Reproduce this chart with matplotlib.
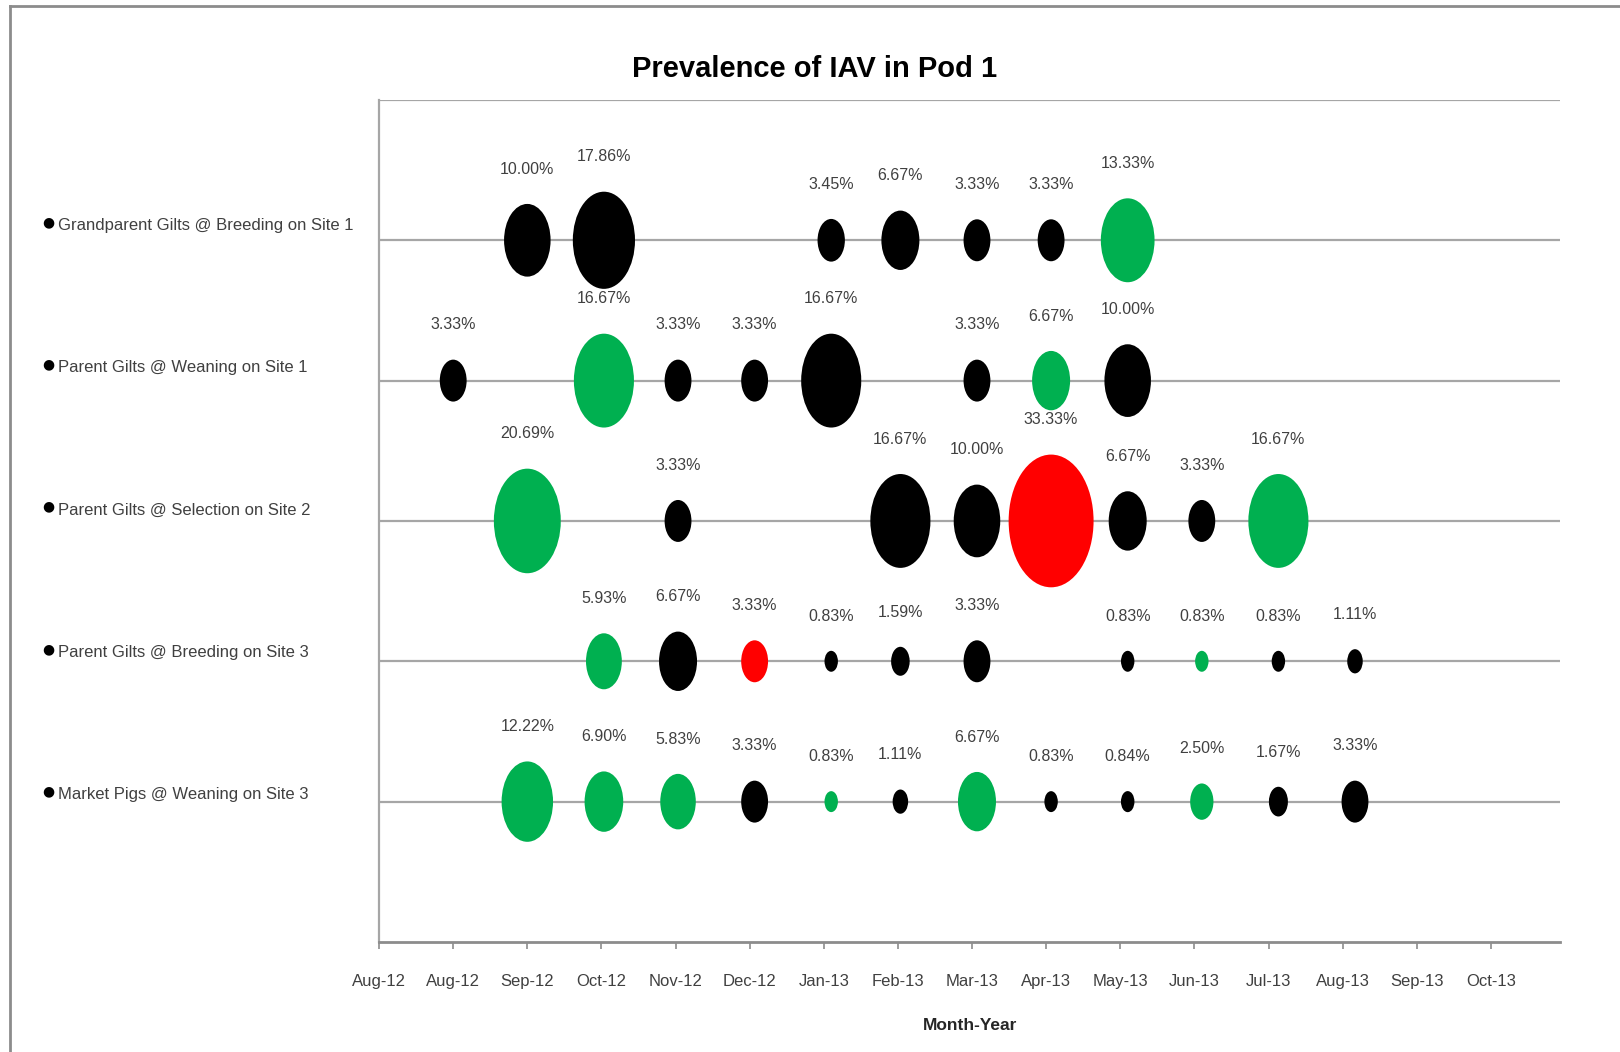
import numpy as np
import matplotlib
matplotlib.use("Agg")
import matplotlib.pyplot as plt
import matplotlib.dates as mdates
from matplotlib.path import Path
from matplotlib.transforms import Affine2D
from matplotlib.lines import Line2D
import datetime as dt

plt.rcParams['font.family'] = ['Liberation Sans', 'DejaVu Sans']

# ---- data ----
rows = [
    "Grandparent Gilts @ Breeding on Site 1",
    "Parent Gilts @ Weaning on Site 1",
    "Parent Gilts @ Selection on Site 2",
    "Parent Gilts @ Breeding on Site 3",
    "Market Pigs @ Weaning on Site 3",
]

gp_dates = ["2012-09-30", "2012-10-31", "2013-01-31", "2013-02-28", "2013-03-31", "2013-04-30", "2013-05-31"]
gp_vals = [10.00, 17.86, 3.45, 6.67, 3.33, 3.33, 13.33]
gp_cols = ["k", "k", "k", "k", "k", "k", "g"]

pw1_dates = ["2012-08-31", "2012-10-31", "2012-11-30", "2012-12-31", "2013-01-31", "2013-03-31", "2013-04-30", "2013-05-31"]
pw1_vals = [3.33, 16.67, 3.33, 3.33, 16.67, 3.33, 6.67, 10.00]
pw1_cols = ["k", "g", "k", "k", "k", "k", "g", "k"]

ps2_dates = ["2012-09-30", "2012-11-30", "2013-02-28", "2013-03-31", "2013-04-30", "2013-05-31", "2013-06-30", "2013-07-31"]
ps2_vals = [20.69, 3.33, 16.67, 10.00, 33.33, 6.67, 3.33, 16.67]
ps2_cols = ["g", "k", "k", "k", "r", "k", "k", "g"]

pb3_dates = ["2012-10-31", "2012-11-30", "2012-12-31", "2013-01-31", "2013-02-28", "2013-03-31", "2013-05-31", "2013-06-30", "2013-07-31", "2013-08-31"]
pb3_vals = [5.93, 6.67, 3.33, 0.83, 1.59, 3.33, 0.83, 0.83, 0.83, 1.11]
pb3_cols = ["g", "k", "r", "k", "k", "k", "k", "g", "k", "k"]

mw3_dates = ["2012-09-30", "2012-10-31", "2012-11-30", "2012-12-31", "2013-01-31", "2013-02-28", "2013-03-31", "2013-04-30", "2013-05-31", "2013-06-30", "2013-07-31", "2013-08-31"]
mw3_vals = [12.22, 6.90, 5.83, 3.33, 0.83, 1.11, 6.67, 0.83, 0.84, 2.50, 1.67, 3.33]
mw3_cols = ["g", "g", "g", "k", "g", "k", "g", "k", "k", "g", "k", "k"]

series = [
    (gp_dates, gp_vals, gp_cols),
    (pw1_dates, pw1_vals, pw1_cols),
    (ps2_dates, ps2_vals, ps2_cols),
    (pb3_dates, pb3_vals, pb3_cols),
    (mw3_dates, mw3_vals, mw3_cols),
]

palette = {"k": "#000000", "g": "#00B050", "r": "#FF0000"}

# ---- figure ----
fig = plt.figure(figsize=(16.2, 10.52), dpi=100)
ax = fig.add_axes([0.234, 0.1046, 0.729, 0.8004])

# squashed bubble marker (the original is stretched vertically)
ell = Path.unit_circle().transformed(Affine2D().scale(0.64, 1.0))
SCALE = 274.0  # points^2 per percent

start = dt.date(2012, 8, 1)
x0 = mdates.date2num(start)

n = len(rows)
for i, (dates, vals, cols) in enumerate(series):
    y = n - i
    xs = mdates.date2num([dt.date.fromisoformat(d) for d in dates])
    sizes = np.array(vals) * SCALE
    ax.scatter(xs, [y] * len(xs), s=sizes, marker=ell,
               c=[palette[c] for c in cols], linewidths=0, zorder=3)
    for x, v, s in zip(xs, vals, sizes):
        ax.annotate(f"{v:.2f}%", xy=(x, y), xytext=(0, np.sqrt(s) / 2 + 25),
                    textcoords="offset points", ha="center", va="center",
                    fontsize=11.5, color="#404040", zorder=4)

ax.set_xlim(x0, x0 + 478)
ax.set_ylim(0, 6)
ax.set_xticks([x0 + 30 * k for k in range(16)])
ax.xaxis.set_major_formatter(mdates.DateFormatter("%b-%y"))
ax.set_yticks([])
for yy in range(1, 7):
    ax.axhline(yy, color="#a6a6a6", linewidth=1.6, zorder=1)

for side in ["top", "right"]:
    ax.spines[side].set_visible(False)
ax.spines["left"].set_color("#a6a6a6")
ax.spines["left"].set_linewidth(1.6)
ax.spines["bottom"].set_color("#8c8c8c")
ax.spines["bottom"].set_linewidth(2.0)
ax.tick_params(axis="x", length=5, width=1.2, color="#8c8c8c",
               pad=18, labelsize=12, labelcolor="#404040")
ax.set_xlabel("Month-Year", fontsize=12.5, fontweight="bold",
              color="#262626", labelpad=21)

# row labels on the left
for i, name in enumerate(rows):
    yf = 1 - (218 + 137.75 * i) * 1.0332 / 1052
    fig.text(0.0262, yf + 0.003, "\u25CF", fontsize=10, color="#000000",
             ha="left", va="center", family=["DejaVu Sans"])
    fig.text(0.0357, yf, name, fontsize=12, color="#404040",
             ha="left", va="center")

fig.text(0.503, 0.934, "Prevalence of IAV in Pod 1", fontsize=21,
         fontweight="bold", ha="center", va="center", color="#000000")

# outer chart frame (left and top edges visible)
fig.add_artist(Line2D([0.0062, 0.0062], [0.0, 0.9943], transform=fig.transFigure,
                      color="#8c8c8c", linewidth=2))
fig.add_artist(Line2D([0.0062, 1.0], [0.9943, 0.9943], transform=fig.transFigure,
                      color="#8c8c8c", linewidth=2))

fig.savefig("out.png", dpi=100)
